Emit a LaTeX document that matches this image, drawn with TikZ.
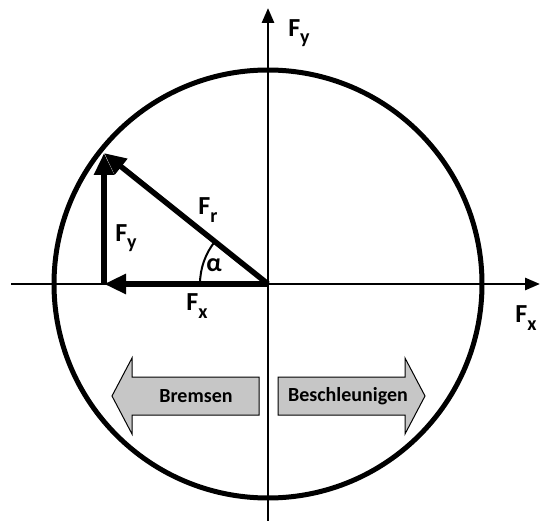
\documentclass[tikz,border=0pt]{standalone}
\usepackage{fontspec}
\setmainfont{Carlito}
\usetikzlibrary{arrows.meta, positioning}
\newcommand{\frc}[1]{F\raisebox{-0.28em}{\fontsize{20}{20}\selectfont #1}}

\begin{document}
\begin{tikzpicture}[x=1pt, y=-1pt,
    axis/.style={line width=2.8pt, -{Triangle[length=15pt,width=12pt]}},
    force/.style={line width=5.5pt, -{Triangle[length=22pt,width=19pt]}},
    lbl/.style={font=\fontsize{26}{26}\bfseries\selectfont, inner sep=0pt},
    blockarrow/.style={draw, line width=1pt, fill=gray!45, line join=miter},
    blocktext/.style={font=\fontsize{20}{20}\bfseries\selectfont, inner sep=0pt}]
    \useasboundingbox (0,0) rectangle (540,521);

    % Punkte
    \coordinate (O) at (268,284);
    \coordinate (P) at (104,153);
    \coordinate (Q) at (104,284);
    \coordinate (xl) at (11,284);
    \coordinate (xr) at (540,284);
    \coordinate (yb) at (268,521);
    \coordinate (yt) at (268,8);

    % Achsen
    \draw[axis] (xl) -- (xr);
    \draw[axis] (yb) -- (yt);
    \node[lbl] (fyax) at (299,33) {\frc{y}};
    \node[lbl] (fxax) at (526,318) {\frc{x}};

    % Kreis
    \draw[line width=5pt] (O) circle[radius=214];

    % Kraefte
    \draw[force] (O) -- (Q);
    \draw[force] (Q) -- (P);
    \draw[force] (O) -- (P);
    \draw[line width=2pt] (O) ++(180:68) arc[start angle=180, end angle=218.6, radius=68];

    % Beschriftung
    \node[lbl] (fr) at (208,210) {\frc{r}};
    \node[lbl] (fy) at (126,238) {\frc{y}};
    \node[lbl] (fx) at (197,306) {\frc{x}};
    \node[lbl] (alpha) at (214,265) {α};

    % Blockpfeile
    \draw[blockarrow] (112,396) -- (132,358) -- (132,377) -- (259,377)
        -- (259,415) -- (132,415) -- (132,434) -- cycle;
    \draw[blockarrow] (278,377) -- (405,377) -- (405,358) -- (425,396)
        -- (405,434) -- (405,415) -- (278,415) -- cycle;
    \node[blocktext] (brems) at (196,396) {Bremsen};
    \node[blocktext] (beschl) at (348,396) {Beschleunigen};
\end{tikzpicture}
\end{document}
